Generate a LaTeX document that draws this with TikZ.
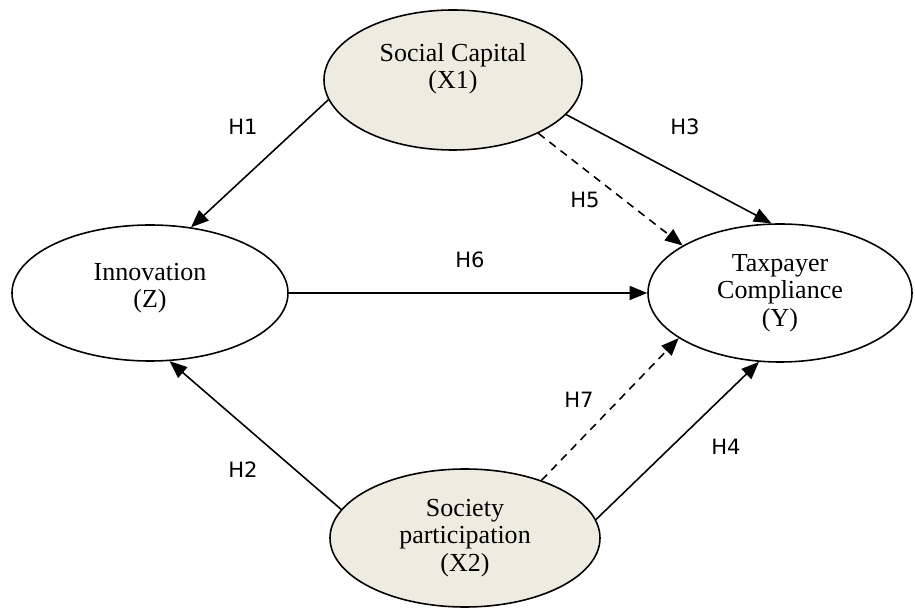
\documentclass[tikz,border=0pt]{standalone}
\usepackage{fontspec}
\setmainfont{Liberation Serif}
\newfontfamily\hypfont{DejaVu Sans}
\usepackage{xcolor}
\usetikzlibrary{shapes.geometric, arrows.meta, positioning}
\definecolor{latentfill}{RGB}{238,236,225}

\begin{document}
\begin{tikzpicture}[
    % style definitions
    construct/.style={
        draw, ellipse, line width=0.9pt, align=center, inner sep=0pt,
        font=\fontsize{14.8}{15.6}\selectfont
    },
    exogenous/.style={
        construct, fill=latentfill
    },
    path_arrow/.style={
        -{Triangle[length=10pt, width=8pt]}, line width=0.9pt
    },
    mediated_arrow/.style={
        path_arrow, dash pattern=on 4.5pt off 3.5pt
    },
    hyp_label/.style={
        font=\hypfont\fontsize{12}{14}\selectfont
    }
]
    \useasboundingbox (0,0) rectangle (18.3,12.18);

    % --- 1. EXOGENOUS CONSTRUCTS (Top / Bottom) ---
    \node[exogenous, minimum width=5.16cm, minimum height=2.8cm, text depth=0.55cm] (social_capital) at (9.06, 10.58) {
        Social Capital\\
        (X1)
    };

    \node[exogenous, minimum width=5.4cm, minimum height=2.76cm] (society_part) at (9.3, 1.42) {
        Society\\
        participation\\
        (X2)
    };

    % --- 2. MEDIATOR (Left) ---
    \node[construct, minimum width=5.52cm, minimum height=2.72cm, text depth=0.31cm] (innovation) at (3.0, 6.32) {
        Innovation\\
        (Z)
    };

    % --- 3. OUTCOME (Right) ---
    \node[construct, minimum width=5.28cm, minimum height=2.76cm] (compliance) at (15.6, 6.32) {
        Taxpayer\\
        Compliance\\
        (Y)
    };

    % --- 4. DIRECT PATHS ---
    \draw[path_arrow] (social_capital.189) -- (innovation.58);
    \draw[path_arrow] (social_capital.-17) -- (compliance.97);
    \draw[path_arrow] (innovation.east) -- (compliance.west);
    \draw[path_arrow] (society_part.167) -- (innovation.-74);
    \draw[path_arrow] (society_part.8) -- (compliance.-107);

    % --- 5. MEDIATED PATHS (dashed) ---
    \draw[mediated_arrow] (social_capital.-32) -- (compliance.154);
    \draw[mediated_arrow] (society_part.37) -- (compliance.204);

    % --- 6. HYPOTHESIS LABELS ---
    \node[hyp_label] (h1) at (4.86, 9.64) {H1};
    \node[hyp_label] (h3) at (13.70, 9.64) {H3};
    \node[hyp_label] (h5) at (11.70, 8.18) {H5};
    \node[hyp_label] (h6) at (9.40, 6.98) {H6};
    \node[hyp_label] (h7) at (11.58, 4.18) {H7};
    \node[hyp_label] (h2) at (4.86, 2.78) {H2};
    \node[hyp_label] (h4) at (14.52, 3.24) {H4};

\end{tikzpicture}
\end{document}
